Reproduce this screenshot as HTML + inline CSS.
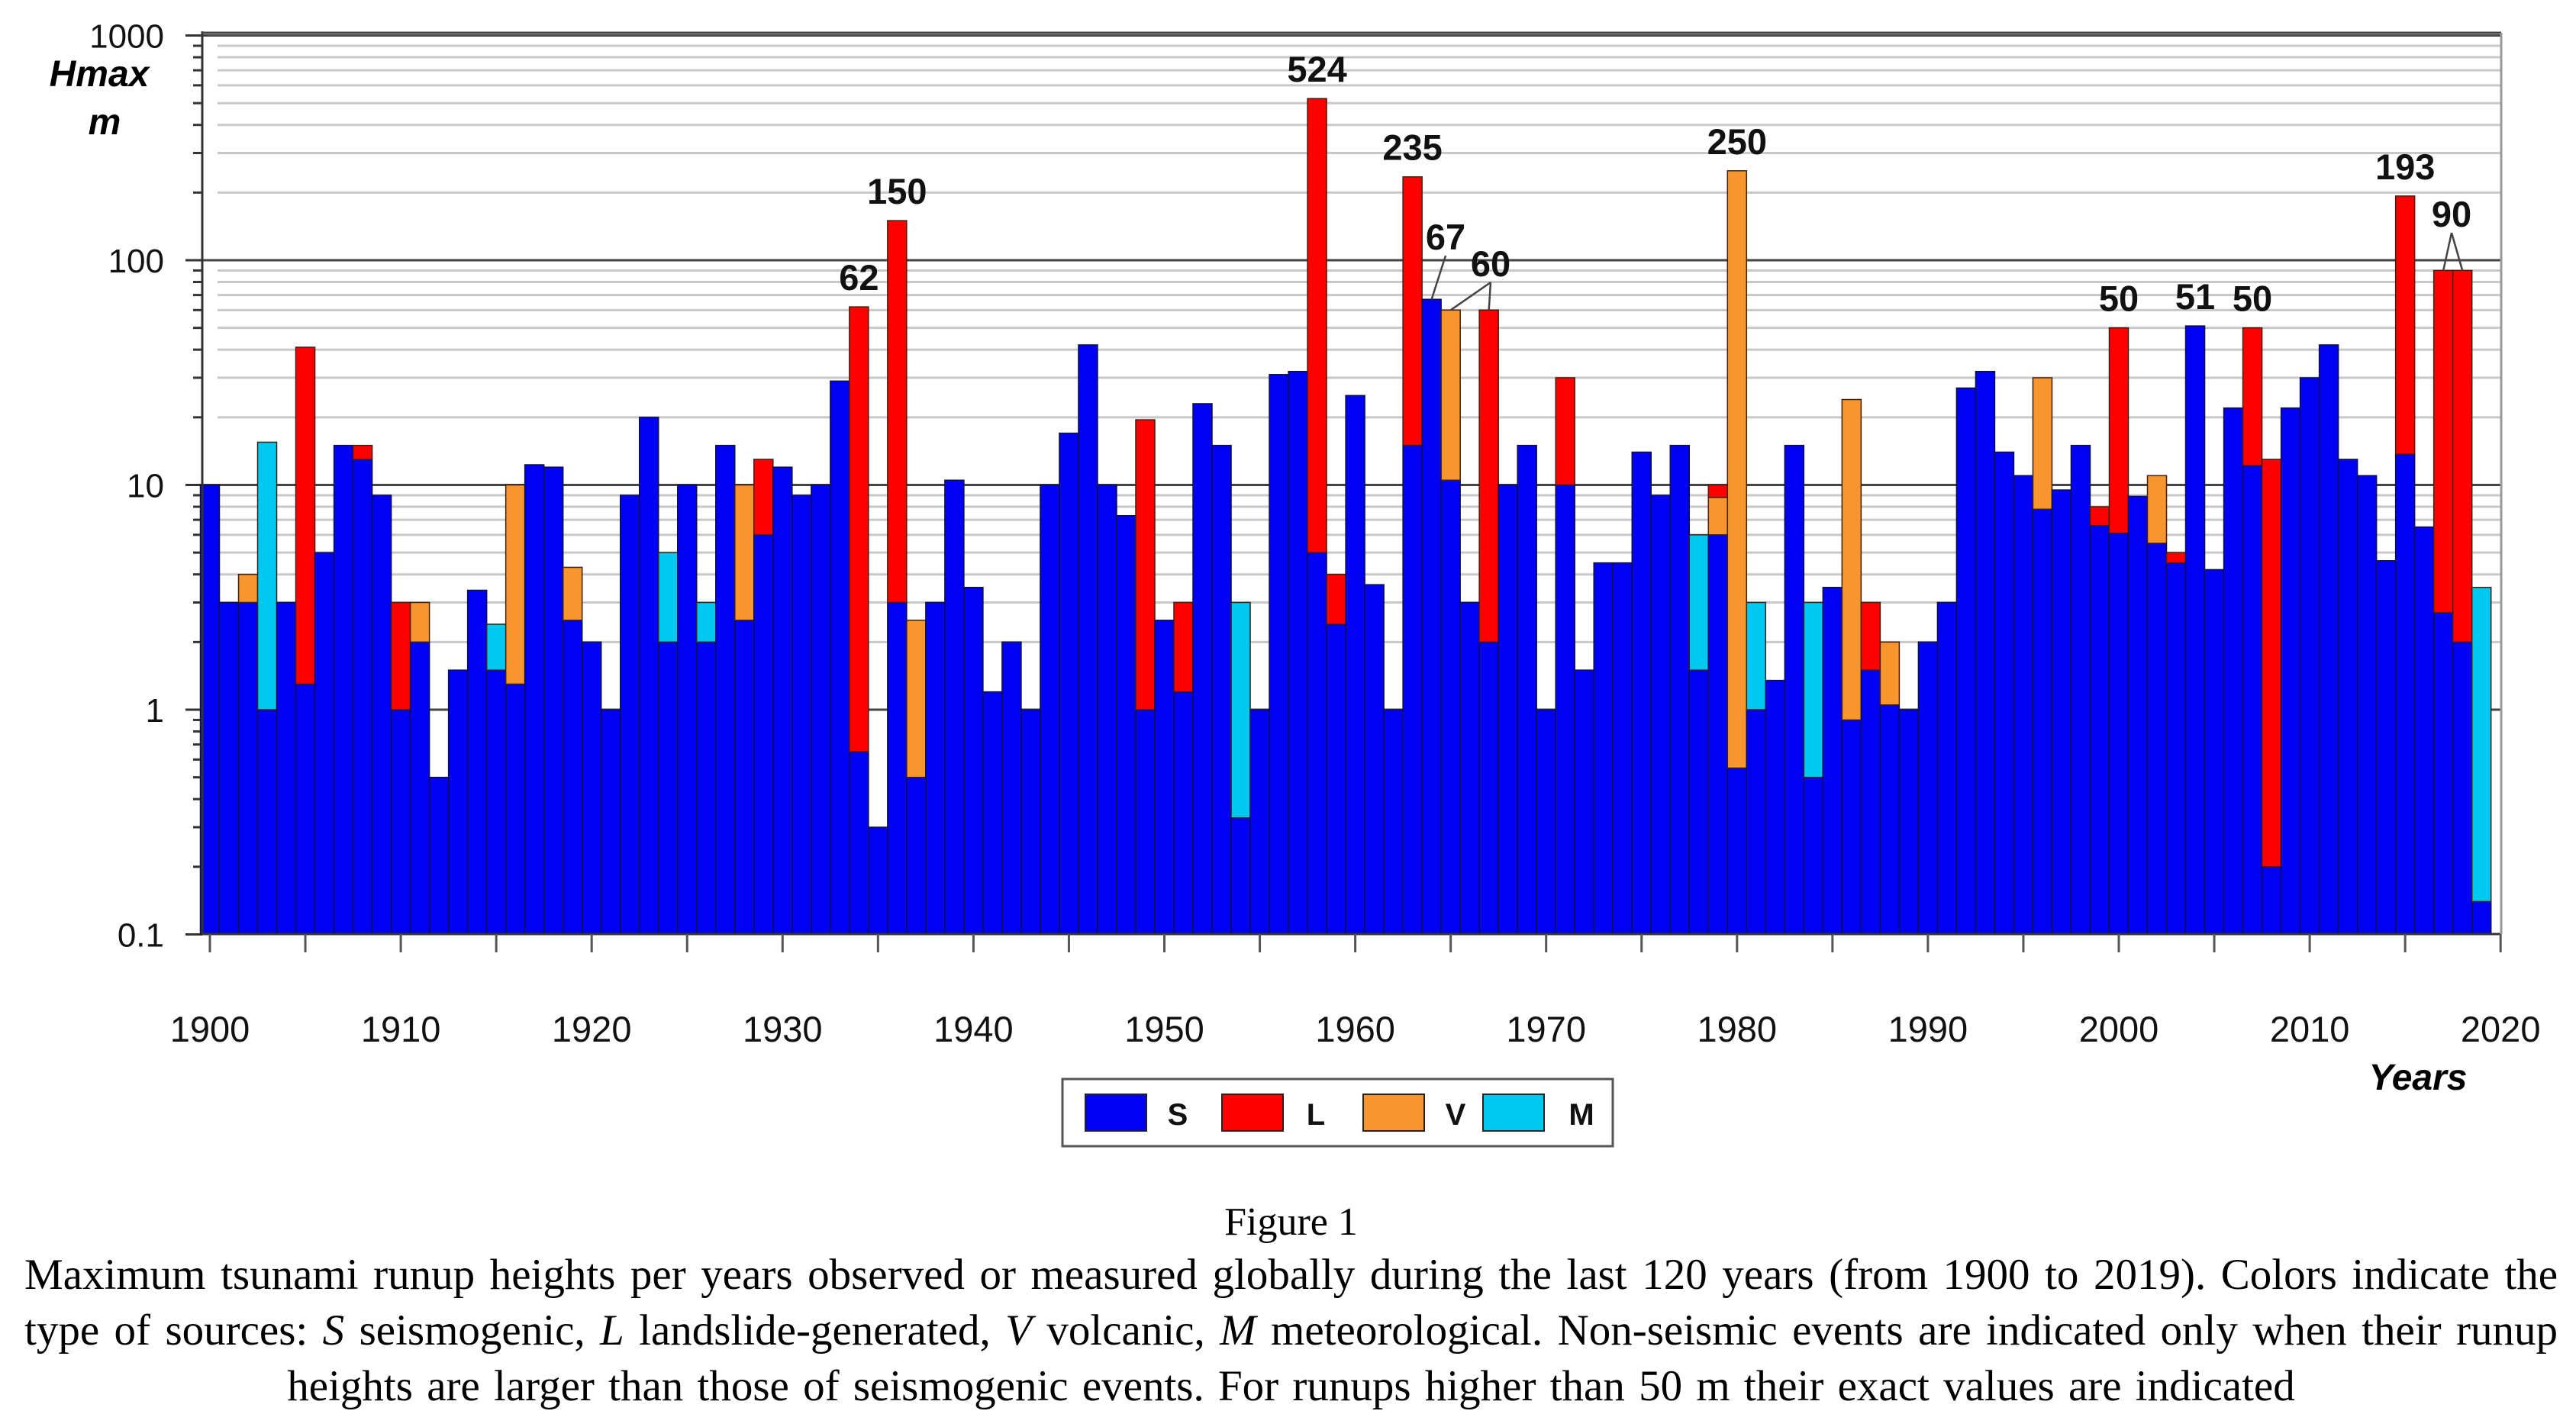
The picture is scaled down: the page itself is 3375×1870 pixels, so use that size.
<!DOCTYPE html>
<html><head><meta charset="utf-8">
<style>
html,body{margin:0;padding:0;background:#fff;}
body{width:3375px;height:1870px;position:relative;overflow:hidden;font-family:"Liberation Sans",sans-serif;}
#chart{position:absolute;left:0;top:0;}
.cap{position:absolute;left:32px;width:3319px;font-family:"Liberation Serif",serif;font-size:57px;color:#000;white-space:nowrap;}
.just{text-align:justify;text-align-last:justify;white-space:normal;}
</style></head>
<body>
<svg id="chart" width="3375" height="1560" viewBox="0 0 3375 1560" xmlns="http://www.w3.org/2000/svg"></svg>
<div class="cap" style="top:1572px;text-align:center;font-size:52px;">Figure 1</div>
<div class="cap just" style="top:1638px;">Maximum tsunami runup heights per years observed or measured globally during the last 120 years (from 1900 to 2019). Colors indicate the</div>
<div class="cap just" style="top:1711px;">type of sources: <i>S</i> seismogenic, <i>L</i> landslide-generated, <i>V</i> volcanic, <i>M</i> meteorological. Non-seismic events are indicated only when their runup</div>
<div class="cap" style="top:1784px;text-align:center;word-spacing:4px;">heights are larger than those of seismogenic events. For runups higher than 50 m their exact values are indicated</div>
<script>
const firstYear = 1900;
const sVals = [
10,3,3,1,3,1.3,5,15,13,9,
1,2,0.5,1.5,3.4,1.5,1.3,12.3,12,2.5,
2,1,9,20,2,10,2,15,2.5,6,
12,9,10,29,0.65,0.3,3,0.5,3,10.5,
3.5,1.2,2,1,10,17,42,10,7.3,1,
2.5,1.2,23,15,0.33,1,31,32,5,2.4,
25,3.6,1,15,67,10.5,3,2,10,15,
1,10,1.5,4.5,4.5,14,9,15,1.5,6,
0.55,1,1.35,15,0.5,3.5,0.9,1.5,1.05,1,
2,3,27,32,14,11,7.8,9.5,15,6.6,
6.1,8.9,5.5,4.5,51,4.2,22,12.2,0.2,22,
30,42,13,11,4.6,13.7,6.5,2.7,2,0.14];
const lYears = [1905,1908,1910,1929,1934,1936,1949,1951,1958,1959,1963,1967,1971,1979,1987,1999,2000,2003,2007,2008,2015,2017,2018];
const lVals  = [41,15,3,13,62,150,19.5,3,524,4,235,60,30,10,3,8,50,5,50,13,193,90,90];
const vYears = [1902,1911,1916,1919,1928,1937,1965,1979,1980,1986,1988,1996,2002];
const vVals  = [4,3,10,4.3,10,2.5,60,8.8,250,24,2,30,11];
const mYears = [1903,1915,1924,1926,1954,1978,1981,1984,2019];
const mVals  = [15.5,2.4,5,3,3,6,3,3,3.5];
const labelYears = [1934,1936,1958,1963,2000,2004,2007,2015,1980];
const labelTexts = ["62","150","524","235","50","51","50","193","250"];
const yTicks = [0.1,1,10,100,1000];
const yTickLabels = ["0.1","1","10","100","1000"];
const xTicks = [1900,1910,1920,1930,1940,1950,1960,1970,1980,1990,2000,2010,2020];

const NS="http://www.w3.org/2000/svg";
const svg=document.getElementById('chart');
const X0=275, PXY=25.01, Y1=930, PXD=294.5, YB=1224, YT=43, XL=265, XR=3277;
function xs(y){return X0+(y-firstYear)*PXY;}
function ys(v){return Y1-PXD*Math.log10(v);}
function mk(t,a,p){const e=document.createElementNS(NS,t);for(const k in a)e.setAttribute(k,a[k]);(p||svg).appendChild(e);return e;}
const colors={S:'#0000f2',L:'#ff0000',V:'#f7962f',M:'#00c8f0'};

const grid=mk('g',{});


for(let d=-1;d<3;d++){for(let m=2;m<=9;m++){const v=m*Math.pow(10,d);const y=ys(v);
 if(d>=0){const l=mk('line',{x1:XL+20,x2:XR,y1:y,y2:y,stroke:'#c8c8c8','stroke-width':3},grid);}
 const t=mk('line',{x1:XL-12,x2:XL,y1:y,y2:y,stroke:'#333','stroke-width':3},grid);}}
yTicks.forEach((v,i)=>{const y=ys(v);
 if(v>=1){const l=mk('line',{x1:XL,x2:XR,y1:y,y2:y,stroke:'#444','stroke-width':3},grid);}
 const t=mk('line',{x1:XL-22,x2:XL,y1:y,y2:y,stroke:'#333','stroke-width':3},grid);
 const tx=mk('text',{x:XL-50,y:y+16,'text-anchor':'end','font-size':44,fill:'#111'},grid);tx.textContent=yTickLabels[i];});

const bars=mk('g',{});


sVals.forEach((s,i)=>{
 const yr=firstYear+i, cx=xs(yr), w=PXY;
 const r=mk('rect',{x:cx-w/2,y:ys(s),width:w,height:YB-ys(s),fill:colors.S,stroke:'#101040','stroke-width':1.5},bars);
 
 
 const ex=[];
 lYears.forEach((y,j)=>{if(y===yr)ex.push([lVals[j],'L']);});
 vYears.forEach((y,j)=>{if(y===yr)ex.push([vVals[j],'V']);});
 mYears.forEach((y,j)=>{if(y===yr)ex.push([mVals[j],'M']);});
 ex.sort((a,b)=>a[0]-b[0]);
 let base=s;
 ex.forEach(e=>{if(e[0]>base){const r2=mk('rect',{x:cx-w/2,y:ys(e[0]),width:w,height:ys(base)-ys(e[0]),fill:colors[e[1]],stroke:'#402010','stroke-width':1.5},bars);
  
  
  base=e[0];}});
});
function topOf(yr){const i=yr-firstYear;let t=sVals[i];
 [[lYears,lVals],[vYears,vVals],[mYears,mVals]].forEach(p=>p[0].forEach((y,j)=>{if(y===yr&&p[1][j]>t)t=p[1][j];}));return t;}

const ax=mk('g',{});


mk('line',{x1:XL,x2:XL,y1:YT-2,y2:YB,stroke:'#333','stroke-width':3},ax);
mk('line',{x1:XL,x2:XR,y1:YB,y2:YB,stroke:'#333','stroke-width':3},ax);
mk('line',{x1:XL,x2:XR,y1:YT,y2:YT,stroke:'#444','stroke-width':3},ax);
mk('line',{x1:XR,x2:XR,y1:YT,y2:YB,stroke:'#999','stroke-width':3},ax);
for(let y=1900;y<=2020;y+=5){const t=mk('line',{x1:xs(y),x2:xs(y),y1:YB,y2:YB+24,stroke:'#555','stroke-width':3},ax);}
xTicks.forEach(y=>{const t=mk('text',{x:xs(y),y:YB+141,'text-anchor':'middle','font-size':47,fill:'#111'},ax);t.textContent=y;});
let t1=mk('text',{x:130,y:113,'text-anchor':'middle','font-size':48,'font-weight':'bold','font-style':'italic'},ax);t1.textContent='Hmax';

let t2=mk('text',{x:137,y:176,'text-anchor':'middle','font-size':48,'font-weight':'bold','font-style':'italic'},ax);t2.textContent='m';

let t3=mk('text',{x:3168,y:1428,'text-anchor':'middle','font-size':48,'font-weight':'bold','font-style':'italic'},ax);t3.textContent='Years';


const an=mk('g',{});


labelYears.forEach((yr,i)=>{const t=mk('text',{x:xs(yr),y:ys(topOf(yr))-22,'text-anchor':'middle','font-size':47,'font-weight':'bold',fill:'#111'},an);t.textContent=labelTexts[i];
 });
function leaderLabel(txt,lx,ly,targets,name){const t=mk('text',{x:lx,y:ly,'text-anchor':'middle','font-size':47,'font-weight':'bold',fill:'#111'},an);t.textContent=txt;
 
 targets.forEach(yr=>{mk('line',{x1:lx,y1:ly+8,x2:xs(yr),y2:ys(topOf(yr)),stroke:'#444','stroke-width':2.5},an);});}
leaderLabel('67',1894,327,[1964],'value-label-1964');
leaderLabel('60',1953,362,[1965,1967],'value-label-1965-1967');
leaderLabel('90',3212,297,[2017,2018],'value-label-2017-2018');

const lg=mk('g',{});


mk('rect',{x:1392,y:1414,width:721,height:88,fill:'#fff',stroke:'#555','stroke-width':3},lg);
[['S',1422,1543],['L',1601,1724],['V',1786,1907],['M',1943,2072]].forEach(e=>{
 const g=mk('g',{},lg);
 mk('rect',{x:e[1],y:1434,width:80,height:48,fill:colors[e[0]],stroke:'#222','stroke-width':2},g);
 const t=mk('text',{x:e[2],y:1474,'text-anchor':'middle','font-size':40,'font-weight':'bold',fill:'#111'},g);t.textContent=e[0];});
</script>
</body></html>
